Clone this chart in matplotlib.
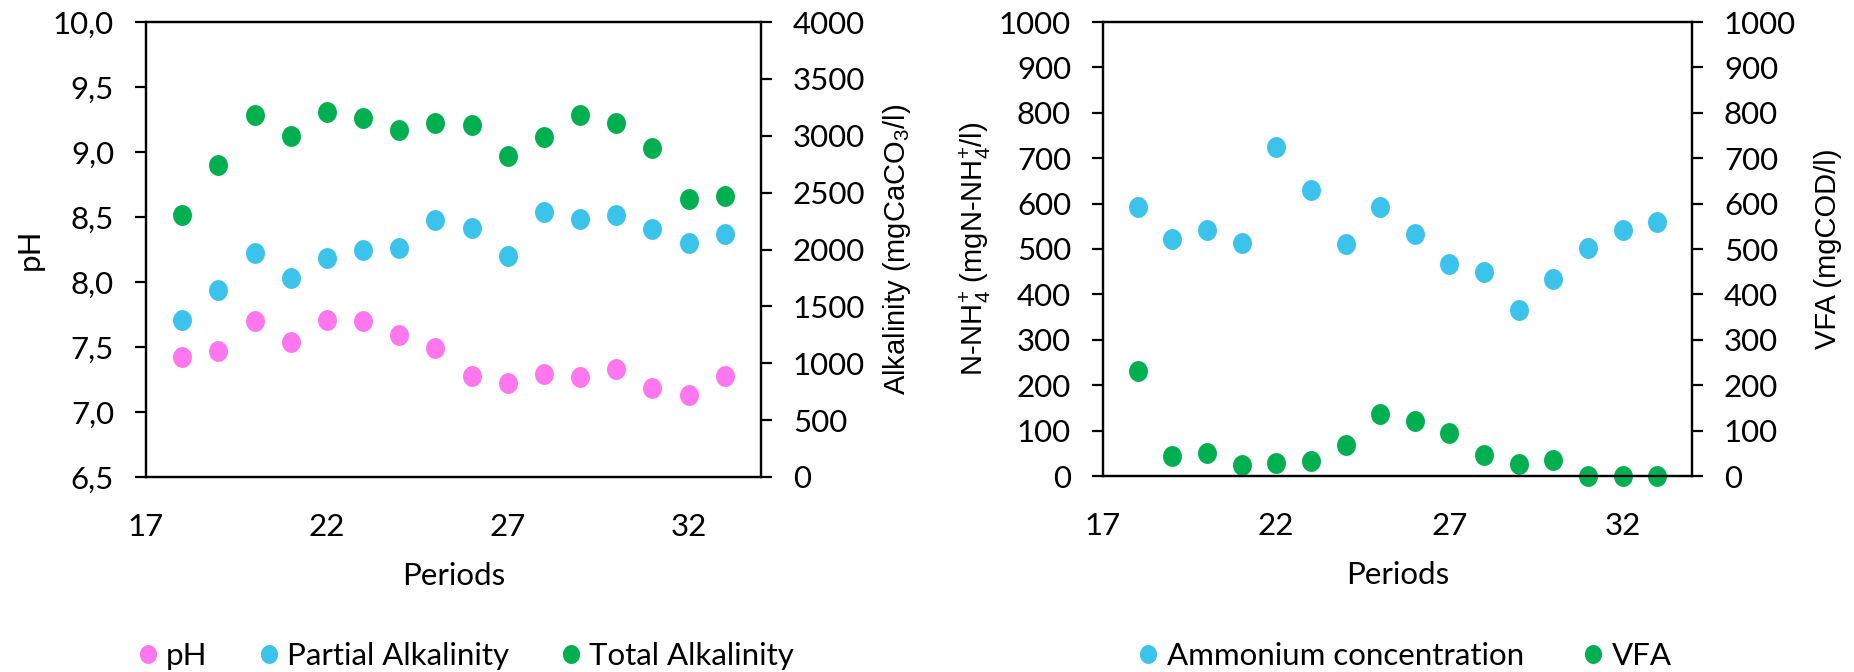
import matplotlib
matplotlib.use("Agg")
import matplotlib.pyplot as plt
import numpy as np
from matplotlib.path import Path
from matplotlib.ticker import FuncFormatter, MultipleLocator

# ---------------- data ----------------
periods = [18, 19, 20, 21, 22, 23, 24, 25, 26, 27, 28, 29, 30, 31, 32, 33]
ph = [7.42, 7.47, 7.70, 7.535, 7.71, 7.70, 7.59, 7.49, 7.28, 7.22, 7.29, 7.27, 7.33, 7.185, 7.13, 7.28]
partial_alk = [1382, 1645, 1972, 1747, 1923, 1999, 2013, 2256, 2186, 1940, 2326, 2264, 2300, 2180, 2060, 2133]
total_alk = [2300, 2741, 3185, 3001, 3208, 3159, 3053, 3109, 3094, 2820, 2992, 3185, 3115, 2893, 2446, 2472]
ammonium = [593, 521, 541, 514, 725, 630, 511, 593, 533, 467, 450, 365, 433, 503, 542, 560]
vfa = [232, 43, 50, 24, 28, 32, 69, 136, 121, 94, 46, 26, 36, 0, 0, 0]
x_ticks = [17, 22, 27, 32]

PINK = "#FF77EE"
BLUE = "#3CC3EB"
GREEN = "#00B050"

TICK_FONT = "Lato"
LABEL_FONT = "Liberation Sans"
plt.rcParams["font.family"] = [TICK_FONT, "DejaVu Sans"]

FS = 22.5       # tick / legend / axis-title size
LFS = 21        # rotated unit labels

# slightly tall ellipse marker
t = np.linspace(0, 2 * np.pi, 60)
ell = Path(np.column_stack([0.9 * np.cos(t), np.sin(t)]), closed=True)
MS = 14

fig = plt.figure(figsize=(18.54, 6.72), dpi=100)

ax1 = fig.add_axes([146 / 1854, 1 - 477 / 672, 615 / 1854, 455 / 672])
ax2 = ax1.twinx()
ax3 = fig.add_axes([1103 / 1854, 1 - 476 / 672, 589 / 1854, 454 / 672])
ax4 = ax3.twinx()

comma = FuncFormatter(lambda v, p: f"{v:.1f}".replace(".", ","))

l1, = ax1.plot(periods, ph, linestyle="none", marker=ell, ms=MS, color=PINK, mec=PINK, label="pH")
l2, = ax2.plot(periods, partial_alk, linestyle="none", marker=ell, ms=MS, color=BLUE, mec=BLUE, label="Partial Alkalinity")
l3, = ax2.plot(periods, total_alk, linestyle="none", marker=ell, ms=MS, color=GREEN, mec=GREEN, label="Total Alkalinity")

l4, = ax3.plot(periods, ammonium, linestyle="none", marker=ell, ms=MS, color=BLUE, mec=BLUE, label="Ammonium concentration")
l5, = ax4.plot(periods, vfa, linestyle="none", marker=ell, ms=MS, color=GREEN, mec=GREEN, label="VFA", clip_on=False)

ax1.set_ylim(6.5, 10.0)
ax1.yaxis.set_major_locator(MultipleLocator(0.5))
ax1.yaxis.set_major_formatter(comma)
ax2.set_ylim(0, 4000)
ax2.yaxis.set_major_locator(MultipleLocator(500))
ax3.set_ylim(0, 1000)
ax3.yaxis.set_major_locator(MultipleLocator(100))
ax4.set_ylim(0, 1000)
ax4.yaxis.set_major_locator(MultipleLocator(100))

for a in (ax1, ax3):
    a.set_xlim(17, 34)
    a.set_xticks(x_ticks)
    a.tick_params(axis="x", length=0, pad=26, labelsize=FS)
    a.set_xlabel("Periods", fontsize=FS, labelpad=15)

for a in (ax1, ax2, ax3, ax4):
    for s in a.spines.values():
        s.set_linewidth(1.6)
        s.set_color("black")
    a.tick_params(axis="y", direction="out", length=8, width=1.6, pad=15, labelsize=FS)
    a.patch.set_visible(False)

ax1.set_ylabel("pH", fontsize=FS)
ax2.set_ylabel(r"Alkalinity (mgCaCO$_\mathregular{3}$/l)", fontsize=LFS, family=LABEL_FONT)
ax3.set_ylabel(r"N-NH$_\mathregular{4}^\mathregular{+}$ (mgN-NH$_\mathregular{4}^\mathregular{+}$/l)", fontsize=LFS, family=LABEL_FONT)
ax4.set_ylabel("VFA (mgCOD/l)", fontsize=LFS, family=LABEL_FONT)

# label centres (figure pixels -> axes fraction)
ax1.yaxis.set_label_coords((30 - 146) / 615, 0.5)
ax2.yaxis.set_label_coords((897 - 146) / 615, 0.5)
ax3.yaxis.set_label_coords((975 - 1103) / 589, 0.5)
ax4.yaxis.set_label_coords((1828 - 1103) / 589, 0.5)
for a in (ax1, ax2, ax3, ax4):
    a.yaxis.label.set_verticalalignment("center")

fig.legend(handles=[l1, l2, l3], loc="center", bbox_to_anchor=(463 / 1854, 1 - 656 / 672), ncol=3,
           frameon=False, fontsize=FS, handletextpad=0.1, columnspacing=1.45, markerscale=0.9,
           handlelength=1.0)
fig.legend(handles=[l4, l5], loc="center", bbox_to_anchor=(1402 / 1854, 1 - 656 / 672), ncol=2,
           frameon=False, fontsize=FS, handletextpad=0.1, columnspacing=1.7, markerscale=0.9,
           handlelength=1.0)

fig.savefig("out.png", dpi=100)
